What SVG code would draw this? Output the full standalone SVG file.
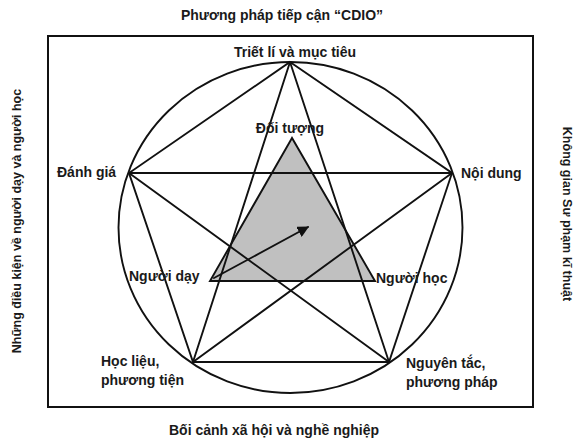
<svg xmlns="http://www.w3.org/2000/svg" width="583" height="441" viewBox="0 0 583 441">
<style>
text{font-family:"Liberation Sans",Arial,sans-serif;font-weight:bold;font-size:14px;fill:#1a1a1a}
.ln{stroke:#111;stroke-width:1.9;fill:none;stroke-linecap:round}
.mid{text-anchor:middle}
.side{font-size:12.5px}
</style>
<defs>
<marker id="ah" viewBox="0 0 10 10" refX="9" refY="5" markerWidth="6" markerHeight="6" orient="auto" markerUnits="strokeWidth">
<path d="M0,0 L10,5 L0,10 z" fill="#111"/>
</marker>
</defs>
<rect width="583" height="441" fill="#fff"/>
<g id="frame">
<rect x="48" y="36" width="485" height="371" fill="none" stroke="#111" stroke-width="2"/>
</g>
<g id="triangle">
<polygon points="292,138 210,281 375,281" fill="#c0c0c0" stroke="#111" stroke-width="1.9"/>
</g>
<g id="connectors">
<ellipse cx="290.5" cy="227.5" rx="172" ry="165.5" class="ln"/>
<polygon points="290,62 452,173 389,362 193,362 129,173" class="ln"/>
<line x1="290" y1="62" x2="193" y2="362" class="ln"/>
<line x1="290" y1="62" x2="389" y2="362" class="ln"/>
<line x1="129" y1="173" x2="452" y2="173" class="ln"/>
<line x1="129" y1="173" x2="389" y2="362" class="ln"/>
<line x1="452" y1="173" x2="193" y2="362" class="ln"/>
<line x1="214" y1="278" x2="308" y2="227" class="ln" marker-end="url(#ah)"/>
</g>
<g id="title"><text x="282" y="20" class="mid" font-size="14.5">Phương pháp tiếp cận “CDIO”</text></g>
<g id="node-triet-li"><text x="295" y="57" class="mid">Triết lí và mục tiêu</text></g>
<g id="node-doi-tuong"><text x="290" y="133" class="mid">Đối tượng</text></g>
<g id="node-danh-gia"><text x="57" y="177">Đánh giá</text></g>
<g id="node-noi-dung"><text x="461" y="178">Nội dung</text></g>
<g id="node-nguoi-day"><text x="129" y="281">Người dạy</text></g>
<g id="node-nguoi-hoc"><text x="376" y="283">Người học</text></g>
<g id="node-hoc-lieu"><text x="101" y="366">Học liệu,</text><text x="101" y="385">phương tiện</text></g>
<g id="node-nguyen-tac"><text x="406" y="368">Nguyên tắc,</text><text x="406" y="387">phương pháp</text></g>
<g id="bottom-label"><text x="274" y="435" class="mid">Bối cảnh xã hội và nghề nghiệp</text></g>
<g id="left-label"><text transform="translate(21,221) rotate(-90)" class="mid side">Những điều kiện về người dạy và người học</text></g>
<g id="right-label"><text transform="translate(563,214) rotate(90)" class="mid side">Không gian Sư phạm kĩ thuật</text></g>
</svg>
